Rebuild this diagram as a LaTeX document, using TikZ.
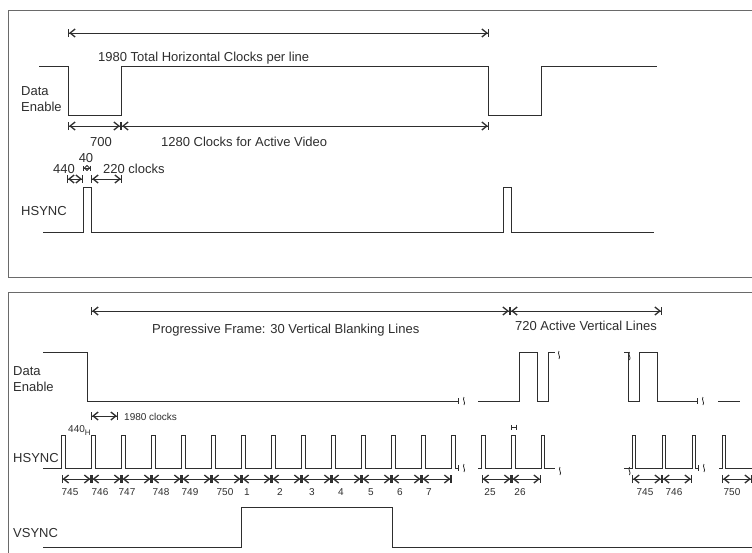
\documentclass[tikz,border=0pt]{standalone}
\usepackage{fontspec}
\setmainfont{Liberation Sans}
\usetikzlibrary{arrows.meta}
\definecolor{ink}{HTML}{2E2E2E}
\definecolor{frm}{HTML}{6A6A6A}
\tikzset{
  sig/.style={draw=ink, line width=0.9pt, line join=miter},
  frame/.style={draw=frm, line width=0.9pt},
  dim/.style={draw=ink, line width=0.8pt,
    {Bar[width=8pt,line width=1.1pt]Straight Barb[length=5pt,width=8pt,line width=1.3pt]}-{Straight Barb[length=5pt,width=8pt,line width=1.3pt]Bar[width=8pt,line width=1.1pt]}},
  dimtiny/.style={draw=ink, line width=0.6pt,
    {Bar[width=5pt,line width=0.9pt]Straight Barb[length=2.5pt,width=5pt,line width=0.9pt]}-{Straight Barb[length=2.5pt,width=5pt,line width=0.9pt]Bar[width=5pt,line width=0.9pt]}},
  lbl/.style={inner sep=0pt, text=ink, font=\fontsize{13}{16}\selectfont, anchor=base west},
  lbls/.style={inner sep=0pt, text=ink, font=\fontsize{10}{12}\selectfont, anchor=base},
  brk/.pic={\draw[ink, line width=0.7pt] (0,-3) -- (0,3);
            \draw[ink, line width=0.8pt] (6,-4) .. controls (4,-1) and (8,1) .. (6,4);},
  wav/.pic={\draw[ink, line width=0.8pt] (0,-4) .. controls (-2,-1) and (2,1) .. (0,4);}
}
\begin{document}
\begin{tikzpicture}[x=1pt,y=-1pt]
\useasboundingbox (0,0) rectangle (752,552);
\clip (0,0) rectangle (752,552);
\fill[white] (0,0) rectangle (752,552);

% ---------------- top panel ----------------
\draw[frame] (8,10) rectangle (780,277);

\coordinate (t1a) at (68,33); \coordinate (t1b) at (489,33);
\draw[dim] (t1a) -- (t1b);
\node[lbl] (ttot) at (98,61) {1980 Total Horizontal Clocks per line};

\node[lbl] (tde1) at (21,95) {Data};
\node[lbl] (tde2) at (21,111) {Enable};
\draw[sig] (39,66) -- (68,66) -- (68,115) -- (121,115) -- (121,66) -- (488,66)
  -- (488,115) -- (541,115) -- (541,66) -- (657,66);

\coordinate (t2a) at (68,126); \coordinate (t2b) at (121,126); \coordinate (t2c) at (489,126);
\draw[dim] (t2a) -- (t2b);
\draw[dim] (t2b) -- (t2c);
\node[lbl] (t700) at (90,146) {700};
\node[lbl] (tact) at (161,146) {1280 Clocks for Active Video};

\node[lbl, anchor=base] (t40) at (86,162) {40};
\node[lbl] (t440) at (53,173) {440};
\node[lbl] (t220) at (103,173) {220 clocks};
\coordinate (s1a) at (67,179); \coordinate (s1b) at (83,179);
\coordinate (s2a) at (91,179); \coordinate (s2b) at (122,179);
\coordinate (s3a) at (83,168); \coordinate (s3b) at (91,168);
\draw[dim] (s1a) -- (s1b);
\draw[dim] (s2a) -- (s2b);
\draw[dimtiny] (s3a) -- (s3b);

\node[lbl] (ths) at (21,215) {HSYNC};
\draw[sig] (43,232) -- (83,232) -- (83,187) -- (91,187) -- (91,232) -- (503,232)
  -- (503,187) -- (511,187) -- (511,232) -- (654,232);

% ---------------- bottom panel ----------------
\draw[frame] (8,292) rectangle (780,580);

\coordinate (b1a) at (91,311); \coordinate (b1b) at (510,311); \coordinate (b1c) at (662,311);
\draw[dim] (b1a) -- (b1b);
\draw[dim] (b1b) -- (b1c);
\node[lbl] (bprog) at (152,333) {Progressive Frame: 30 Vertical Blanking Lines};
\node[lbl] (bact) at (515,330) {720 Active Vertical Lines};

\node[lbl] (bde1) at (13,375) {Data};
\node[lbl] (bde2) at (13,391) {Enable};
\draw[sig] (43,352) -- (87,352) -- (87,401) -- (458,401);
\pic at (458,401) {brk};
\draw[sig] (478,401) -- (519,401) -- (519,352) -- (537,352) -- (537,401) -- (548,401)
  -- (548,352) -- (555,352);
\pic at (559,355) {wav};
\draw[sig] (624,352) -- (628,352) -- (628,401) -- (639,401) -- (639,352) -- (657,352)
  -- (657,401) -- (697,401);
\pic at (629.5,356) {wav};
\pic at (697,401) {brk};
\draw[sig] (718,401) -- (740,401);

\coordinate (c1a) at (91,416); \coordinate (c1b) at (118,416);
\draw[dim] (c1a) -- (c1b);
\node[lbl, font=\fontsize{10}{12}\selectfont] (bclk) at (124,420) {1980 clocks};
\node[lbl, font=\fontsize{10}{12}\selectfont] (b440) at (68,432) {440\raisebox{-3pt}{\fontsize{8}{9}\selectfont H}};
\coordinate (m1) at (511,427); \coordinate (m2) at (517,427);
\draw[ink, line width=0.6pt, {Bar[width=5pt]}-{Bar[width=5pt]}] (m1) -- (m2);

\node[lbl] (bhs) at (13,462) {HSYNC};
\draw[sig] (43,468) foreach \k in {0,...,13} {
   -- ({61.5+30*\k},468) -- ({61.5+30*\k},435) -- ({65+30*\k},435) -- ({65+30*\k},468) }
   -- (458,468);
\pic at (458,468) {brk};
\draw[sig] (478,468) foreach \p in {481.5,511.5,541} {
   -- (\p,468) -- (\p,435) -- ({\p+3.5},435) -- ({\p+3.5},468) } -- (555,468);
\pic at (560,471) {wav};
\draw[sig] (624,468) foreach \p in {632,662,692} {
   -- (\p,468) -- (\p,435) -- ({\p+3.5},435) -- ({\p+3.5},468) } -- (698,468);
\pic at (629.5,471) {wav};
\pic at (698,468) {brk};
\draw[sig] (719,468) foreach \p in {722,752} {
   -- (\p,468) -- (\p,435) -- ({\p+3.5},435) -- ({\p+3.5},468) } -- (770,468);

% line-count dimension arrows
\foreach \k in {0,...,12} {
  \coordinate (d\k a) at ({61.5+30*\k},479);
  \coordinate (d\k b) at ({91.5+30*\k},479);
  \draw[dim] (d\k a) -- (d\k b);
}
\coordinate (e1) at (481.5,479); \coordinate (e2) at (511.5,479); \coordinate (e3) at (541,479);
\draw[dim] (e1) -- (e2); \draw[dim] (e2) -- (e3);
\coordinate (f1) at (632,479); \coordinate (f2) at (662,479); \coordinate (f3) at (692,479);
\draw[dim] (f1) -- (f2); \draw[dim] (f2) -- (f3);
\coordinate (g1) at (722,479); \coordinate (g2) at (752,479);
\draw[dim] (g1) -- (g2);

\foreach \x/\t in {70/745,100/746,127/747,161/748,190/749,225/750,247/1,280/2,312/3,341/4,371/5,400/6,429/7,490/25,520/26,645/745,674/746,732/750}
  \node[lbls] at (\x,495) {\t};

\node[lbl] (bvs) at (13,537) {VSYNC};
\draw[sig] (43,547) -- (241,547) -- (241,507) -- (392,507) -- (392,547) -- (770,547);
\end{tikzpicture}
\end{document}
